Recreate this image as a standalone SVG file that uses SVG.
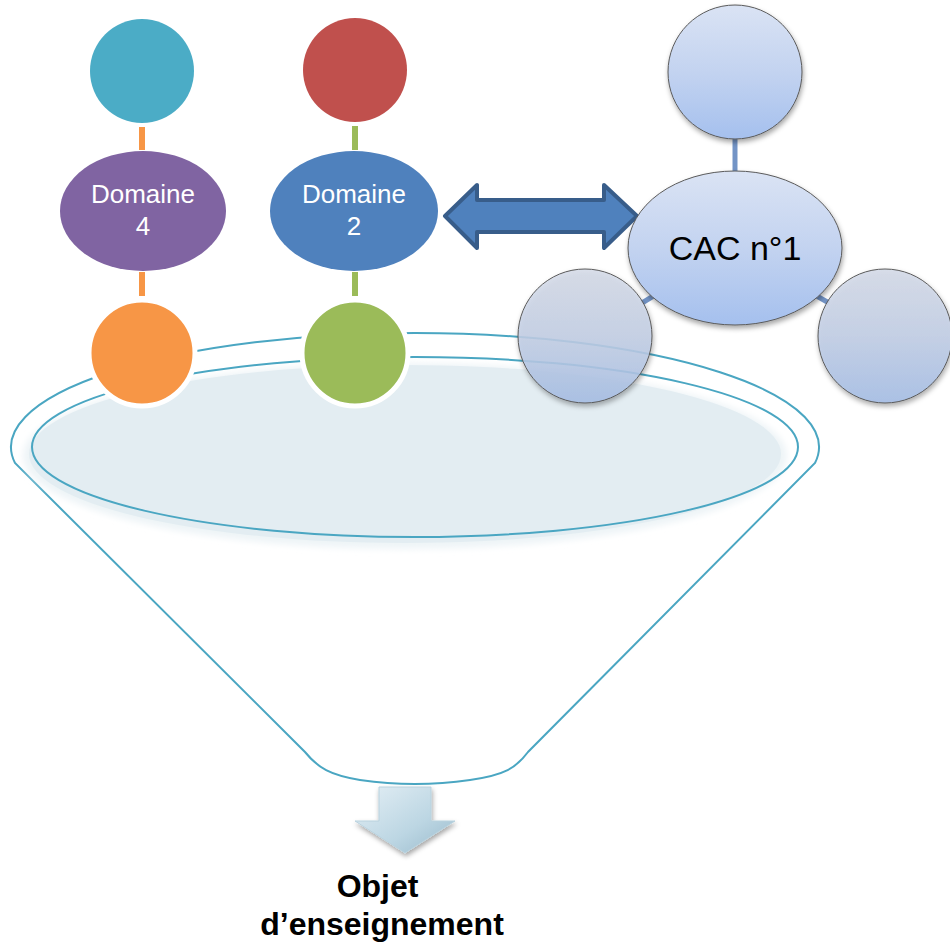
<svg xmlns="http://www.w3.org/2000/svg" width="950" height="948" viewBox="0 0 950 948">
  <defs>
    <linearGradient id="cacGrad" x1="0" y1="0" x2="0" y2="1">
      <stop offset="0" stop-color="#dae3f4"/>
      <stop offset="0.5" stop-color="#c3d3f0"/>
      <stop offset="1" stop-color="#a5c0ee"/>
    </linearGradient>
    <linearGradient id="cacGradLow" x1="0" y1="0" x2="0" y2="1">
      <stop offset="0" stop-color="#d5dbe8"/>
      <stop offset="0.5" stop-color="#c3cfe6"/>
      <stop offset="1" stop-color="#a7bfe6"/>
    </linearGradient>
    <linearGradient id="downGrad" x1="0" y1="0" x2="1" y2="1">
      <stop offset="0" stop-color="#e4eff5"/>
      <stop offset="0.6" stop-color="#bcd6e3"/>
      <stop offset="1" stop-color="#98b9cb"/>
    </linearGradient>
    <filter id="shadow" x="-20%" y="-20%" width="140%" height="140%">
      <feDropShadow dx="1" dy="3" stdDeviation="2.5" flood-color="#000" flood-opacity="0.35"/>
    </filter>
    <filter id="soft" x="-5%" y="-10%" width="110%" height="120%">
      <feGaussianBlur stdDeviation="3"/>
    </filter>
    <style>
      .funnel { fill: none; stroke: #4aa6c2; stroke-width: 2; }
      .link { stroke-width: 6; }
      .dom-label { font-family: "Liberation Sans", Arial, sans-serif; font-size: 26px; fill: #ffffff; text-anchor: middle; }
      .cac-node { stroke: #5a5a5a; stroke-width: 1; filter: url(#shadow); }
      .cac-link { stroke: #7394c6; stroke-width: 5; }
      .ring { stroke: #ffffff; stroke-width: 5; }
    </style>
  </defs>

  <!-- funnel body -->
  <g id="funnel">
    <path class="funnel" d="M 15 463 A 404 114 0 1 1 815 463 L 528 752 C 516 768 505 775 470 780 Q 415 788 360 780 C 330 775 318 768 305 752 Z" style="fill:#ffffff"/>
    <ellipse cx="405" cy="456" rx="382" ry="93" fill="#eef4f7" filter="url(#soft)"/>
    <ellipse cx="405" cy="454" rx="376" ry="89" fill="#e3edf2"/>
    <ellipse class="funnel" cx="415" cy="447" rx="383" ry="90"/>
  </g>

  <!-- connectors -->
  <g id="connectors">
    <line class="link" x1="142" y1="127" x2="142" y2="150" stroke="#f79646"/>
    <line class="link" x1="142" y1="272" x2="142" y2="296" stroke="#f79646"/>
    <line class="link" x1="355" y1="126" x2="355" y2="150" stroke="#9bbb59"/>
    <line class="link" x1="355" y1="272" x2="355" y2="296" stroke="#9bbb59"/>
    <line class="cac-link" x1="735" y1="138" x2="735" y2="174"/>
    <line class="cac-link" x1="655" y1="295" x2="642" y2="303"/>
    <line class="cac-link" x1="815" y1="295" x2="829" y2="303"/>
    <path id="link-domaine2-cac" d="M 445 216 L 477 185 L 477 200 L 604 200 L 604 185 L 637 216 L 604 248 L 604 232 L 477 232 L 477 248 Z" fill="#4f81bd" stroke="#385d8a" stroke-width="4" stroke-linejoin="round"/>
    <path id="arrow-down" d="M 379 787 L 431 787 L 431 821 L 455 821 L 405 853 L 355 821 L 379 821 Z" fill="url(#downGrad)" stroke="#b9d2de" stroke-width="1" filter="url(#shadow)"/>
  </g>

  <!-- Domaine 4 column -->
  <g id="domaine4-top">
    <circle cx="142" cy="71" r="52" fill="#4bacc6"/>
  </g>
  <g id="domaine4">
    <ellipse cx="143" cy="211" rx="83" ry="60" fill="#8064a2"/>
    <text class="dom-label" x="143" y="203">Domaine</text>
    <text class="dom-label" x="143" y="235">4</text>
  </g>
  <g id="domaine4-bottom">
    <circle class="ring" cx="142" cy="353" r="53" fill="#f79646"/>
  </g>

  <!-- Domaine 2 column -->
  <g id="domaine2-top">
    <circle cx="355" cy="70" r="52" fill="#c0504d"/>
  </g>
  <g id="domaine2">
    <ellipse cx="354" cy="211" rx="84" ry="60" fill="#4f81bd"/>
    <text class="dom-label" x="354" y="203">Domaine</text>
    <text class="dom-label" x="354" y="235">2</text>
  </g>
  <g id="domaine2-bottom">
    <circle class="ring" cx="355" cy="353" r="53" fill="#9bbb59"/>
  </g>

  <!-- CAC n°1 cluster -->
  <g id="cac-top">
    <circle class="cac-node" cx="735" cy="72" r="67" fill="url(#cacGrad)"/>
  </g>
  <g id="cac-left">
    <circle class="cac-node" cx="585" cy="336" r="67" fill="url(#cacGradLow)" fill-opacity="0.85"/>
  </g>
  <g id="cac-right">
    <circle class="cac-node" cx="885" cy="336" r="67" fill="url(#cacGradLow)" fill-opacity="0.9"/>
  </g>
  <g id="cac1">
    <ellipse class="cac-node" cx="735" cy="248" rx="107" ry="77" fill="url(#cacGrad)"/>
    <text x="735" y="260" font-family="'Liberation Sans', Arial, sans-serif" font-size="34" fill="#000000" text-anchor="middle">CAC n°1</text>
  </g>

  <!-- result label -->
  <g id="objet">
    <text font-family="'Liberation Sans', Arial, sans-serif" font-size="32" font-weight="bold" fill="#000000" text-anchor="middle">
      <tspan x="382" y="897">Objet</tspan>
      <tspan x="382" y="935">d’enseignement</tspan>
    </text>
  </g>
</svg>
